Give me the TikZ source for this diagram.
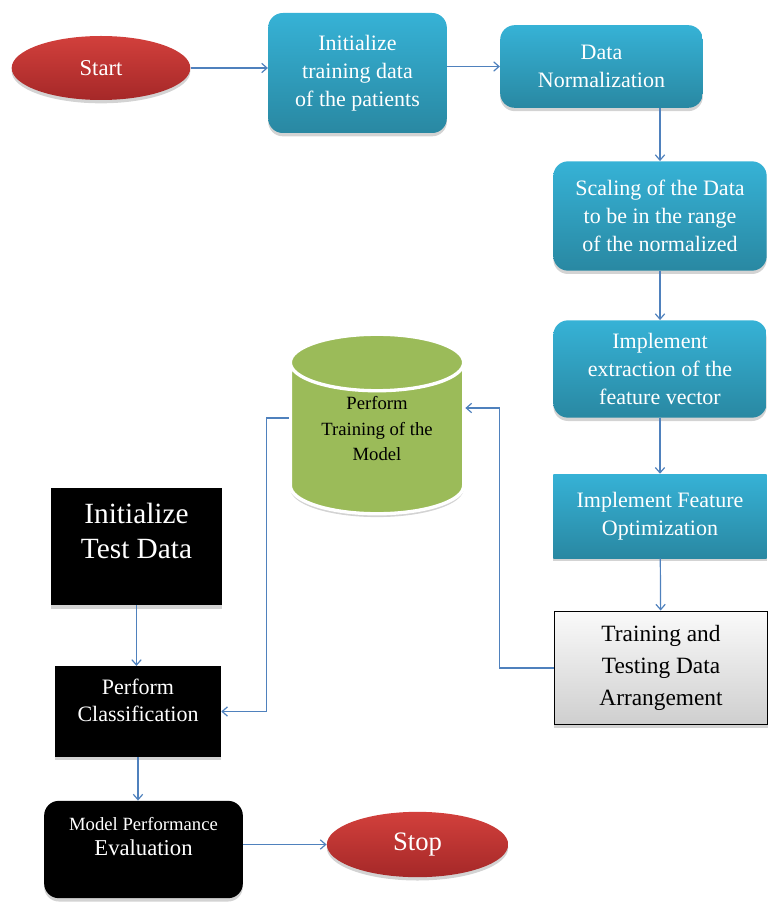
\documentclass[tikz,border=0pt]{standalone}
\usepackage{fontspec}
\setmainfont{Liberation Serif}
\usepackage{xcolor}
\usetikzlibrary{arrows.meta,positioning,shapes.geometric,shadows}

\definecolor{tealtop}{RGB}{54,178,214}
\definecolor{tealbot}{RGB}{41,136,162}
\definecolor{redtop}{RGB}{210,64,60}
\definecolor{redbot}{RGB}{165,40,40}
\definecolor{modelgreen}{RGB}{155,187,89}
\definecolor{flowblue}{RGB}{79,129,189}

\begin{document}
\begin{tikzpicture}[
  x=0.75pt,y=-0.75pt,
  softshadow/.style={drop shadow={opacity=0.35,shadow xshift=0pt,shadow yshift=-2.5pt}},
  oval/.style={ellipse,top color=redtop,bottom color=redbot,text=white,
               minimum width=134pt,minimum height=48pt,
               font=\fontsize{17}{20}\selectfont,softshadow},
  tbox/.style={rounded corners=11pt,top color=tealtop,bottom color=tealbot,
               text=white,align=center,minimum width=160pt,
               font=\fontsize{16.5}{21}\selectfont,softshadow},
  bbox/.style={fill=black,text=white,align=center,softshadow},
  arr/.style={-{Straight Barb[length=4pt,width=7pt]},draw=flowblue,line width=0.9pt}
]
\useasboundingbox (0,0) rectangle (769,912);

% top row and right column
\node[oval] (start) at (101,68) {Start};
\node[tbox,minimum width=134pt,minimum height=90pt] (init) at (357.5,73)
  {Initialize\\training data\\of the patients};
\node[tbox,minimum width=152pt,minimum height=62pt] (norm) at (601.5,66.5)
  {Data\\Normalization};
\node[tbox,minimum height=82pt] (scale) at (660,216)
  {Scaling of the Data\\to be in the range\\of the normalized};
\node[tbox,minimum height=73pt] (extract) at (660,369)
  {Implement\\extraction of the\\feature vector};
\node[tbox,sharp corners,minimum height=63pt] (optim) at (660,516)
  {Implement Feature\\Optimization};
\node[draw=black,line width=1.2pt,top color=gray!4,bottom color=gray!38,
      align=center,minimum width=160pt,minimum height=85pt,
      font=\fontsize{17.5}{24}\selectfont,softshadow] (arrange) at (661,668)
  {Training and\\Testing Data\\Arrangement};

% model store
\node[cylinder,shape border rotate=90,aspect=0.47,draw=white,line width=2.5pt,
      fill=modelgreen,minimum width=130pt,minimum height=128pt,align=center,
      anchor=shape center,text depth=22pt,
      font=\fontsize{14}{19}\selectfont,softshadow] (train) at (377,424)
  {Perform\\Training of the\\Model};

% left column
\node[bbox,minimum width=128pt,minimum height=88pt,text depth=24pt,
      font=\fontsize{22}{26}\selectfont] (testinit) at (136.5,546.5)
  {Initialize\\Test Data};
\node[bbox,minimum width=124.5pt,minimum height=68pt,text depth=17pt,
      font=\fontsize{16.5}{20}\selectfont] (classif) at (138,711.5)
  {Perform\\Classification};
\node[bbox,rounded corners=11pt,minimum width=149pt,minimum height=73pt,
      text depth=20pt,font=\fontsize{17}{19}\selectfont] (eval) at (143.5,849.5)
  {{\fontsize{14}{17}\selectfont Model Performance}\\Evaluation};
\node[oval,minimum width=136pt,minimum height=49pt,
      font=\fontsize{20}{24}\selectfont] (stop) at (417.5,844.5) {Stop};

\draw[arr] (start.east) -- (start.east -| init.west);
\draw[arr] (init.east |- norm.west) -- (norm.west);
\draw[arr] (norm.south -| scale.north) -- (scale.north);
\draw[arr] (scale) -- (extract);
\draw[arr] (extract) -- (optim);
\draw[arr] (optim) -- (arrange);
\draw[arr] (arrange.west) -- ++(-54,0) |- ([yshift=12pt]train.east |- train.shape center);
\draw[arr] ([yshift=4.5pt]train.west |- train.shape center) -- ++(-22,0) |- (classif.east);
\draw[arr] (testinit.south) -- (testinit.south |- classif.north);
\draw[arr] (classif.south) -- (classif.south |- eval.north);
\draw[arr] (eval.east |- stop.west) -- (stop.west);
\end{tikzpicture}
\end{document}
